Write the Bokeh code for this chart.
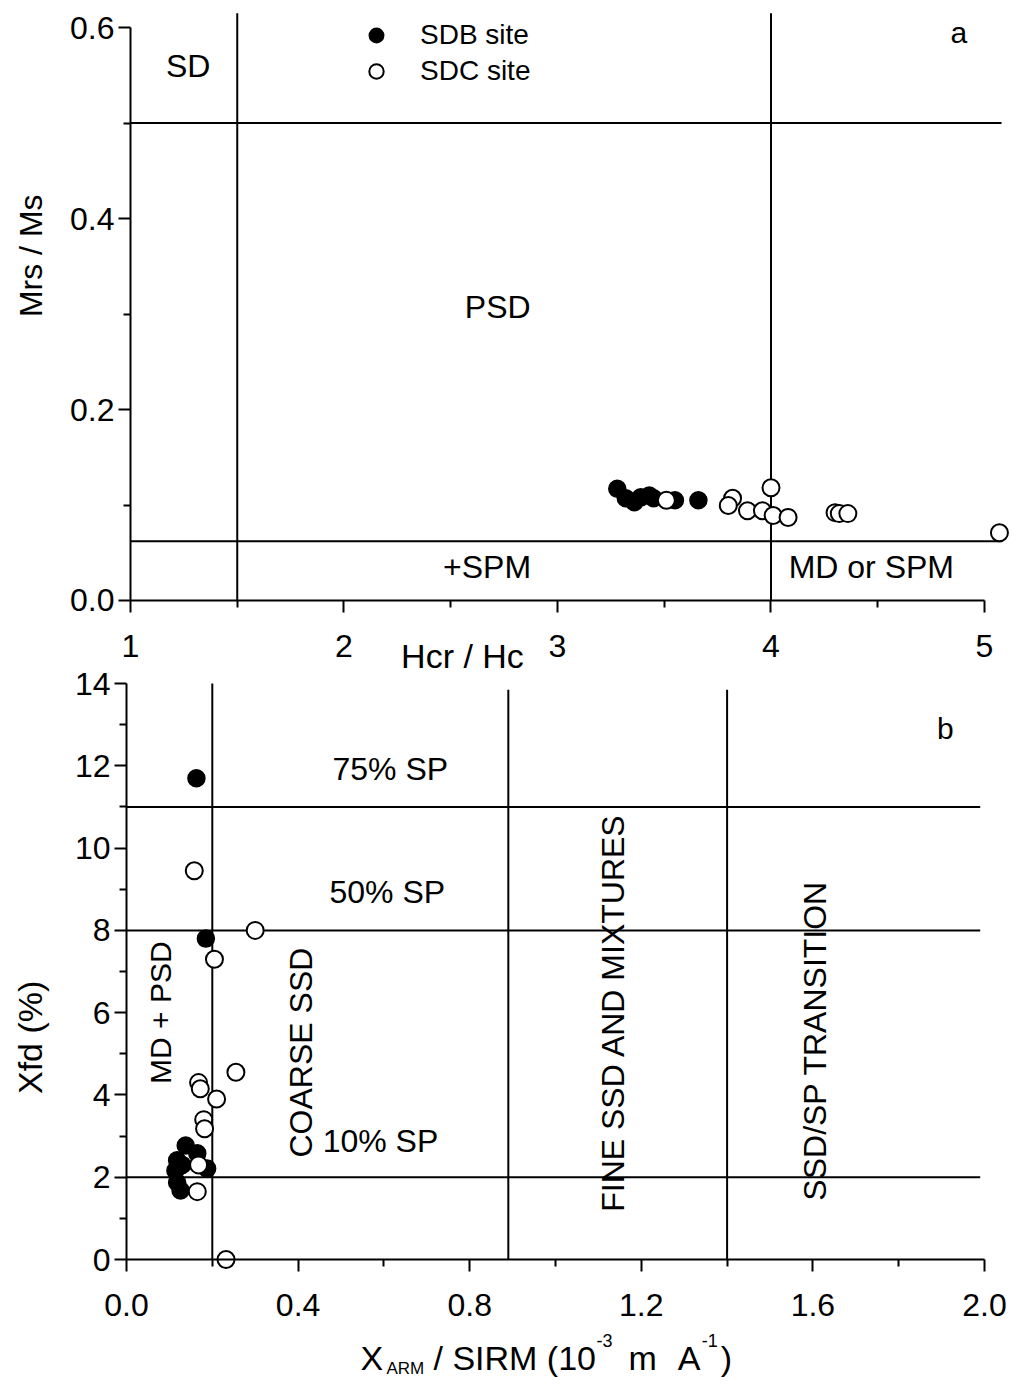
import numpy as np
from bokeh.plotting import figure
from bokeh.models import (FixedTicker, PrintfTickFormatter, Label, Legend, LegendItem,
                          Range1d, LinearAxis)
from bokeh.embed import file_html
from bokeh.resources import INLINE

FONT = "Liberation Sans"

# ---------------- panel a : Day plot ----------------
sdb_hcr_hc = [3.28, 3.32, 3.36, 3.39, 3.43, 3.45, 3.55, 3.66]
sdb_mrs_ms = [0.117, 0.107, 0.103, 0.108, 0.110, 0.107, 0.105, 0.105]
sdc_hcr_hc = [3.51, 3.82, 3.80, 3.89, 3.96, 4.00, 4.01, 4.08, 4.30, 4.32, 4.36, 5.07]
sdc_mrs_ms = [0.105, 0.107, 0.0995, 0.094, 0.094, 0.118, 0.089, 0.087, 0.092, 0.091, 0.091, 0.071]
a_hlines = [0.5, 0.062]
a_vlines = [1.5, 4.0]
a_xticks = [1, 2, 3, 4, 5]
a_xminor = [1.5, 2.5, 3.5, 4.5]
a_yticks = [0.0, 0.2, 0.4, 0.6]
a_yminor = [0.1, 0.3, 0.5]

# ---------------- panel b : Xfd vs XARM/SIRM ----------------
sdb_xarm = [0.163, 0.185, 0.138, 0.118, 0.165, 0.188, 0.114, 0.118, 0.126, 0.130]
sdb_xfd = [11.7, 7.8, 2.77, 2.41, 2.58, 2.21, 2.16, 1.87, 1.68, 2.30]
sdc_xarm = [0.158, 0.300, 0.205, 0.255, 0.168, 0.172, 0.210, 0.180, 0.182, 0.165, 0.232, 0.168]
sdc_xfd = [9.45, 8.0, 7.3, 4.55, 4.3, 4.15, 3.9, 3.4, 3.18, 1.65, 0.0, 2.3]
b_hlines = [11.0, 8.0, 2.0]
b_vlines = [0.2, 0.89, 1.4]
b_vline_tops = [14.0, 13.85, 13.85]
b_xticks = [0.0, 0.4, 0.8, 1.2, 1.6, 2.0]
b_xminor = [0.2, 0.6, 1.0, 1.4, 1.8]
b_yticks = [0, 2, 4, 6, 8, 10, 12, 14]
b_yminor = [1, 3, 5, 7, 9, 11, 13]

series_names = ["SDB site", "SDC site"]


def style_axis(ax, standoff):
    ax.axis_line_width = 2
    ax.axis_line_color = "black"
    ax.major_tick_line_width = 2
    ax.minor_tick_line_width = 2
    ax.major_tick_in = 0
    ax.minor_tick_in = 0
    ax.major_tick_out = 12
    ax.minor_tick_out = 7
    ax.major_label_text_font = FONT
    ax.major_label_text_font_size = "32px"
    ax.major_label_text_color = "black"
    ax.major_label_standoff = standoff


def lab(p, x, y, text, size="32px", angle=0, align="center", baseline="middle", rn="default"):
    p.add_layout(Label(x=x, y=y, text=text, text_font=FONT, text_font_size=size,
                       angle=angle, text_align=align, text_baseline=baseline,
                       text_color="black", x_range_name=rn, y_range_name=rn))


# one canvas; the default ranges map panel a, the "b" ranges map panel b
p = figure(frame_width=1010, frame_height=1380, min_border=0,
           x_range=Range1d(0.3911, 5.1218), y_range=Range1d(-0.8168, 0.6283),
           output_backend="svg", toolbar_location=None)
p.extra_x_ranges = {"b": Range1d(-0.2937, 2.0606)}
p.extra_y_ranges = {"b": Range1d(-2.941, 30.603)}
p.xgrid.visible = False
p.ygrid.visible = False
p.outline_line_color = None
p.background_fill_color = "white"
p.border_fill_color = "white"

# ---- panel a axes ----
ax_a = p.xaxis[0]
ay_a = p.yaxis[0]
style_axis(ax_a, 23)
style_axis(ay_a, 4)
ax_a.ticker = FixedTicker(ticks=a_xticks, minor_ticks=a_xminor)
ay_a.ticker = FixedTicker(ticks=a_yticks, minor_ticks=a_yminor)
ax_a.formatter = PrintfTickFormatter(format="%d")
ay_a.formatter = PrintfTickFormatter(format="%.1f")
ax_a.bounds = (1, 5)
ay_a.bounds = (0, 0.6)
ax_a.fixed_location = 0
ay_a.fixed_location = 1

# ---- panel b axes ----
ax_b = LinearAxis(x_range_name="b", y_range_name="b", fixed_location=0,
                  ticker=FixedTicker(ticks=b_xticks, minor_ticks=b_xminor),
                  formatter=PrintfTickFormatter(format="%.1f"), bounds=(0, 2))
ay_b = LinearAxis(x_range_name="b", y_range_name="b", fixed_location=0,
                  ticker=FixedTicker(ticks=b_yticks, minor_ticks=b_yminor),
                  formatter=PrintfTickFormatter(format="%d"), bounds=(0, 14))
style_axis(ax_b, 22)
style_axis(ay_b, 4)
p.add_layout(ax_b, "below")
p.add_layout(ay_b, "left")

# ---- panel a content ----
p.segment(x0=[1] * len(a_hlines), y0=a_hlines, x1=[5.08] * len(a_hlines), y1=a_hlines,
          line_color="black", line_width=2)
p.segment(x0=a_vlines, y0=[0] * len(a_vlines), x1=a_vlines, y1=[0.615] * len(a_vlines),
          line_color="black", line_width=2)

ra1 = p.scatter(sdb_hcr_hc, sdb_mrs_ms, size=17, marker="circle",
                fill_color="black", line_color="black", line_width=1.5)
ra2 = p.scatter(sdc_hcr_hc, sdc_mrs_ms, size=17, marker="circle",
                fill_color="white", line_color="black", line_width=2)

leg = Legend(items=[LegendItem(label=series_names[0], renderers=[ra1]),
                    LegendItem(label=series_names[1], renderers=[ra2])],
             location=(358, 1291), glyph_width=36, glyph_height=36, spacing=0,
             padding=0, margin=0, label_standoff=26, border_line_color=None,
             background_fill_alpha=0, label_text_font=FONT,
             label_text_font_size="28px", label_text_color="black")
p.add_layout(leg, "center")

lab(p, 1.27, 0.560, "SD")
lab(p, 2.72, 0.307, "PSD")
lab(p, 2.67, 0.035, "+SPM")
lab(p, 4.47, 0.035, "MD or SPM")
lab(p, 4.88, 0.595, "a", size="30px")
lab(p, 2.555, -0.0576, "Hcr / Hc", size="34px")
lab(p, 0.532, 0.361, "Mrs / Ms", size="32px", angle=np.pi / 2)

# ---- panel b content ----
p.segment(x0=[0] * len(b_hlines), y0=b_hlines, x1=[1.99] * len(b_hlines), y1=b_hlines,
          line_color="black", line_width=2, x_range_name="b", y_range_name="b")
p.segment(x0=b_vlines, y0=[0] * len(b_vlines), x1=b_vlines, y1=b_vline_tops,
          line_color="black", line_width=2, x_range_name="b", y_range_name="b")

p.scatter(sdb_xarm, sdb_xfd, size=17, marker="circle",
          fill_color="black", line_color="black", line_width=1.5,
          x_range_name="b", y_range_name="b")
p.scatter(sdc_xarm, sdc_xfd, size=17, marker="circle",
          fill_color="white", line_color="black", line_width=2,
          x_range_name="b", y_range_name="b")

lab(p, 0.615, 11.93, "75% SP", rn="b")
lab(p, 0.608, 8.94, "50% SP", rn="b")
lab(p, 0.592, 2.89, "10% SP", rn="b")
lab(p, 0.079, 6.0, "MD + PSD", size="30px", angle=np.pi / 2, rn="b")
lab(p, 0.406, 5.03, "COARSE SSD", angle=np.pi / 2, rn="b")
lab(p, 1.133, 6.0, "FINE SSD AND MIXTURES", angle=np.pi / 2, rn="b")
lab(p, 1.606, 5.32, "SSD/SP TRANSITION", angle=np.pi / 2, rn="b")
lab(p, 1.909, 12.9, "b", size="30px", rn="b")
lab(p, -0.224, 5.40, "Xfd (%)", size="34px", angle=np.pi / 2, rn="b")

# x axis title with sub/superscripts
lab(p, 0.5455, -2.382, "X", size="34px", align="left", baseline="alphabetic", rn="b")
lab(p, 0.606, -2.65, "ARM", size="17px", align="left", baseline="alphabetic", rn="b")
lab(p, 0.7156, -2.382, "/ SIRM (10", size="34px", align="left", baseline="alphabetic", rn="b")
lab(p, 1.0956, -1.969, "-3", size="18px", align="left", baseline="alphabetic", rn="b")
lab(p, 1.170, -2.382, "m", size="34px", align="left", baseline="alphabetic", rn="b")
lab(p, 1.285, -2.382, "A", size="34px", align="left", baseline="alphabetic", rn="b")
lab(p, 1.341, -1.969, "-1", size="18px", align="left", baseline="alphabetic", rn="b")
lab(p, 1.385, -2.382, ")", size="34px", align="left", baseline="alphabetic", rn="b")

open("out.html", "w").write(file_html(p, INLINE))
